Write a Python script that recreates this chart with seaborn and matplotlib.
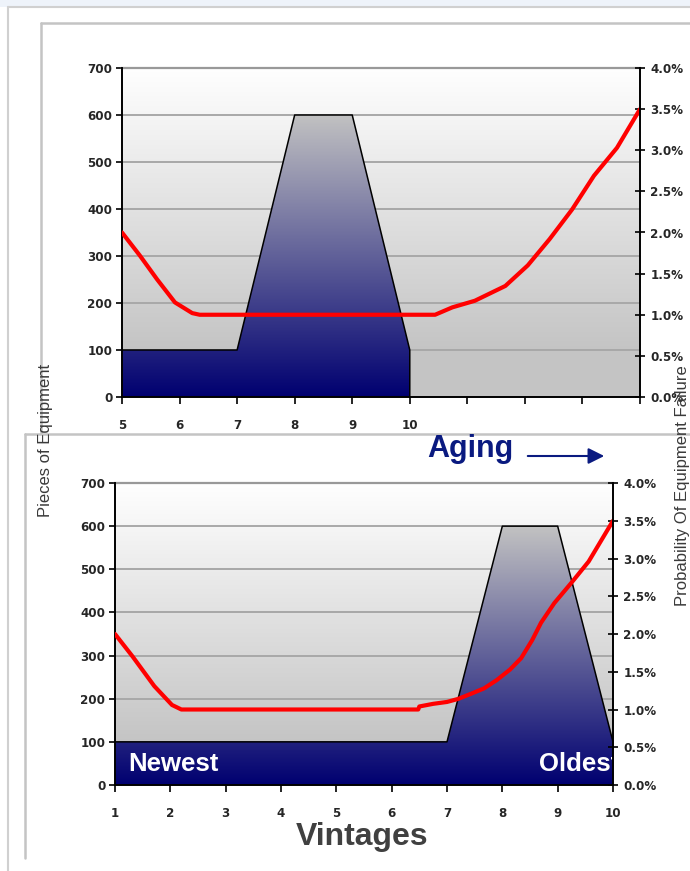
import numpy as np
import matplotlib
matplotlib.use("Agg")
import matplotlib.pyplot as plt
import seaborn as sns
from matplotlib.lines import Line2D
from matplotlib.patches import Rectangle, FancyArrowPatch
from matplotlib.ticker import FuncFormatter

# ---------------- data ----------------
# top panel (vintages 5..14, labels only up to 10)
top_vintages = [5, 6, 7, 8, 9, 10]
top_pieces = [100, 100, 100, 600, 600, 100]
top_tick_positions = [5, 6, 7, 8, 9, 10, 11, 12, 13, 14]
top_tick_labels = ["5", "6", "7", "8", "9", "10", "", "", "", ""]
top_fail_x = [5.0, 5.31, 5.61, 5.92, 6.22, 6.35, 10.44, 10.74, 11.13, 11.66,
              12.05, 12.43, 12.82, 13.2, 13.6, 14.0]
top_fail_pct = [2.0, 1.72, 1.43, 1.15, 1.02, 1.0, 1.0, 1.09, 1.17, 1.35,
                1.60, 1.92, 2.28, 2.69, 3.03, 3.5]

# bottom panel (vintages 1..10)
bot_vintages = [1, 2, 3, 4, 5, 6, 7, 8, 9, 10]
bot_pieces = [100, 100, 100, 100, 100, 100, 100, 600, 600, 100]
bot_tick_labels = ["1", "2", "3", "4", "5", "6", "7", "8", "9", "10"]
bot_fail_x = [1.0, 1.32, 1.71, 2.03, 2.2, 6.48, 6.5, 6.75, 7.0, 7.2, 7.44,
              7.67, 7.9, 8.14, 8.34, 8.54, 8.7, 8.94, 9.25, 9.56, 10.0]
bot_fail_pct = [2.0, 1.70, 1.31, 1.06, 1.0, 1.0, 1.04, 1.075, 1.10, 1.14, 1.21,
                1.28, 1.39, 1.53, 1.68, 1.92, 2.15, 2.41, 2.68, 2.96, 3.5]

y_ticks = [0, 100, 200, 300, 400, 500, 600, 700]
pct_ticks = [0.0, 0.5, 1.0, 1.5, 2.0, 2.5, 3.0, 3.5, 4.0]

# ---------------- style ----------------
sns.set_style("white")
plt.rcParams["font.family"] = ["Liberation Sans", "DejaVu Sans"]

W, H = 690, 871
fig = plt.figure(figsize=(W / 100, H / 100), dpi=100)
TICK_FS = 8.6


def fx(x):
    return x / W


def fy(y):
    return 1 - y / H


# background strip at very top
fig.add_artist(Rectangle((0, fy(7)), 1, 7 / H, transform=fig.transFigure,
                         facecolor="#eef3fa", edgecolor="none", zorder=-3))
# outer frame
fig.add_artist(Line2D([fx(8), fx(8)], [fy(7), 0], transform=fig.transFigure,
                      color="#d0d0d0", lw=1.5, zorder=-2))
fig.add_artist(Line2D([fx(8), 1], [fy(7), fy(7)], transform=fig.transFigure,
                      color="#d0d0d0", lw=1.5, zorder=-2))
# top chart frame
fig.add_artist(Line2D([fx(41), fx(41)], [fy(23), fy(434)], transform=fig.transFigure,
                      color="#c4c4c4", lw=1.8, zorder=-2))
fig.add_artist(Line2D([fx(41), 1], [fy(23), fy(23)], transform=fig.transFigure,
                      color="#c4c4c4", lw=1.8, zorder=-2))
# bottom chart frame
fig.add_artist(Rectangle((fx(25), fy(858)), 1, (858 - 434) / H, transform=fig.transFigure,
                         facecolor="white", edgecolor="none", zorder=-1.5))
fig.add_artist(Line2D([fx(25), fx(25)], [fy(434), fy(858)], transform=fig.transFigure,
                      color="#c4c4c4", lw=1.8, zorder=-1))
fig.add_artist(Line2D([fx(25), 1], [fy(434), fy(434)], transform=fig.transFigure,
                      color="#c4c4c4", lw=1.8, zorder=-1))


def bg_gradient(ax, x0, x1):
    n = 256
    yy = np.linspace(0, 700, n)
    t = np.clip((yy - 100) / 600.0, 0, 1)
    lo = np.array([0.77, 0.77, 0.77])
    hi = np.array([1.0, 1.0, 1.0])
    img = lo[None, :] * (1 - t[:, None]) + hi[None, :] * t[:, None]
    img = img[:, None, :]
    ax.imshow(img, extent=[x0, x1, 0, 700], origin="lower", aspect="auto",
              zorder=0, interpolation="bilinear")


def area_gradient(ax, xs, ys, close_right=False):
    top = max(ys)
    n = 256
    t = np.linspace(0, 1, n)
    lo = np.array([0.0, 0.0, 0.44])
    hi = np.array([0.76, 0.76, 0.76])
    img = lo[None, :] * (1 - t[:, None]) + hi[None, :] * t[:, None]
    img = img[:, None, :]
    poly = ax.fill_between(xs, ys, 0, color="none", zorder=2)
    im = ax.imshow(img, extent=[min(xs), max(xs), 0, top], origin="lower",
                   aspect="auto", zorder=2, interpolation="bilinear")
    im.set_clip_path(poly.get_paths()[0], transform=ax.transData)
    lx, ly = list(xs), list(ys)
    if close_right:
        lx = lx + [lx[-1]]
        ly = ly + [0]
    sns.lineplot(x=lx, y=ly, ax=ax, color="black", lw=1.1, zorder=3,
                 sort=False, estimator=None)


def style_axes(ax, ax2, xlim, xticks, xlabels):
    ax.set_xlim(*xlim)
    ax.set_ylim(0, 700)
    ax.set_axisbelow(True)
    ax.patch.set_visible(False)
    ax.set_yticks(y_ticks)
    ax.set_yticklabels([str(v) for v in y_ticks])
    ax.yaxis.grid(True, color="#a8a8a8", lw=1.4)
    ax.xaxis.grid(False)
    ax.set_xticks(xticks)
    ax.set_xticklabels(xlabels)
    for lab in ax.get_xticklabels() + ax.get_yticklabels():
        lab.set_fontfamily("DejaVu Sans")
        lab.set_fontweight("bold")
        lab.set_fontsize(TICK_FS)
    ax.tick_params(axis="y", direction="out", length=4, width=1.2, color="black", pad=3, left=True)
    ax.tick_params(axis="x", direction="out", length=5, width=1.2, color="black", pad=11, bottom=True)
    for s in ["left", "bottom"]:
        ax.spines[s].set_color("black")
        ax.spines[s].set_linewidth(1.4)
        ax.spines[s].set_zorder(5)
    ax.spines["top"].set_color("#999999")
    ax.spines["top"].set_linewidth(1.6)
    ax.spines["right"].set_visible(False)
    ax.set_xlabel("")
    ax.set_ylabel("")

    ax2.set_ylim(0, 4)
    ax2.set_yticks(pct_ticks)
    ax2.yaxis.set_major_formatter(FuncFormatter(lambda v, p: f"{v:.1f}%"))
    for lab in ax2.get_yticklabels():
        lab.set_fontfamily("DejaVu Sans")
        lab.set_fontweight("bold")
        lab.set_fontsize(TICK_FS)
    ax2.tick_params(axis="y", direction="inout", length=7, width=1.2, color="black", pad=4, right=True)
    for s in ["left", "top", "bottom"]:
        ax2.spines[s].set_visible(False)
    ax2.spines["right"].set_color("black")
    ax2.spines["right"].set_linewidth(1.4)
    ax2.set_xlabel("")
    ax2.set_ylabel("")
    ax2.grid(False)


# ---------------- top panel ----------------
axT = fig.add_axes([fx(122), fy(397), (640 - 122) / W, (397 - 68) / H])
bg_gradient(axT, 5, 14)
area_gradient(axT, top_vintages, top_pieces, close_right=True)
axT2 = axT.twinx()
sns.lineplot(x=top_fail_x, y=top_fail_pct, ax=axT2, color="#ff0000", lw=3.0)
style_axes(axT, axT2, (5, 14), top_tick_positions, top_tick_labels)

# ---------------- bottom panel ----------------
axB = fig.add_axes([fx(115), fy(785), (613 - 115) / W, (785 - 483) / H])
bg_gradient(axB, 1, 10)
area_gradient(axB, bot_vintages, bot_pieces)
axB2 = axB.twinx()
sns.lineplot(x=bot_fail_x, y=bot_fail_pct, ax=axB2, color="#ff0000", lw=3.0)
style_axes(axB, axB2, (1, 10), bot_vintages, bot_tick_labels)

axB.text(1.24, 32, "Newest", color="white", fontsize=18.5, fontweight="bold",
         va="baseline", ha="left", zorder=6)
axB.text(8.67, 32, "Oldest", color="white", fontsize=18.5, fontweight="bold",
         va="baseline", ha="left", zorder=6, clip_on=True)

# ---------------- labels ----------------
fig.text(fx(46), fy(440), "Pieces of Equipment", rotation=90, ha="center", va="center",
         fontsize=12, color="#3a3a3a")
fig.text(fx(683), fy(486), "Probability Of Equipment Failure", rotation=90, ha="center",
         va="center", fontsize=12, color="#3a3a3a")
fig.text(fx(427), fy(457), "Aging", ha="left", va="baseline", fontsize=22,
         fontweight="bold", color="#0a1a80")
fig.add_artist(FancyArrowPatch((fx(525), fy(456)), (fx(607), fy(456)),
                               transform=fig.transFigure,
                               arrowstyle="-|>,head_length=6,head_width=3",
                               color="#0a1a80", lw=1.5, mutation_scale=1.6))
fig.text(fx(362), fy(845), "Vintages", ha="center", va="baseline", fontsize=23,
         fontweight="bold", color="#404040")

fig.savefig("out.png", dpi=100)
